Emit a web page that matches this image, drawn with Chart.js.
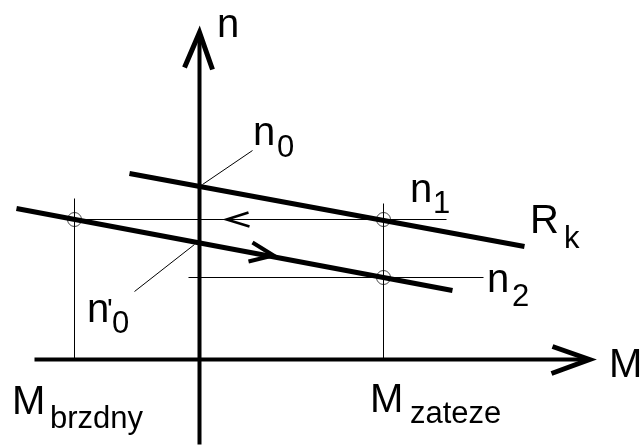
<!DOCTYPE html>
<html>
<head>
<meta charset="utf-8">
<script src="https://cdn.jsdelivr.net/npm/chart.js@4"></script>
<style>
  html, body { margin: 0; padding: 0; background: #fff; }
  canvas { display: block; }
</style>
</head>
<body>
<canvas id="charChart" width="640" height="445"></canvas>
<script>
  /* ---- Data (moment M, speed n), origin at the axes crossing ---- */
  // characteristic with series resistance Rk (n0 at M = 0)
  const lineRk = [[-70, 186], [325, 113]];
  // shifted characteristic (n0' at M = 0)
  const lineShift = [[-183, 151], [253, 69]];
  // working speeds n1 / n2
  const levelN1 = [[-132, 140], [247, 140]];
  const levelN2 = [[-11, 82], [284, 82]];
  // braking / load moments
  const dropBrzdny = [[-125, 0], [-125, 161]];
  const dropZateze = [[184, 0], [184, 156]];
  // operating points
  const operPoints = [[-125, 140], [184, 140], [184, 82]];
  // axes and their arrow heads
  const axisM = [[-165, 0], [390, 0]];
  const axisN = [[0, -85], [0, 327]];
  const headM = [[353, 13], [390, 0], [352, -14]];
  const headN = [[-15, 292], [0, 327], [13, 290]];
  // direction arrows on n1 level and on the shifted line
  const arrowBack = [[49, 147], [27, 140], [50, 133]];
  const arrowFwd = [[53, 117], [74, 104], [49, 98]];
  // leader lines for n0 and n0'
  const leaderN0 = [[53, 209], [3, 175]];
  const leaderN0s = [[-65, 68], [-5, 115]];

  // labels: main text, subscript, anchor (M, n) of main text baseline-left
  const labels = [
    { t: 'n', s: '', M: 17, n: 323 },
    { t: 'n', s: '0', M: 53, n: 215, dx: 24, dy: 12 },
    { t: 'n', s: '1', M: 210, n: 158, dx: 23, dy: 11 },
    { t: 'R', s: 'k', M: 330, n: 127, dx: 34, dy: 15 },
    { t: 'n', s: '2', M: 287, n: 68, dx: 25, dy: 14 },
    { t: 'n', s: '0', M: -113, n: 38, dx: 25, dy: 11, prime: true },
    { t: 'M', s: 'brzdny', M: -188, n: -54, dx: 38, dy: 14 },
    { t: 'M', s: 'zateze', M: 170, n: -52, dx: 40, dy: 11 },
    { t: 'M', s: '', M: 409, n: -17 }
  ];

  const pts = arr => arr.map(p => ({ x: p[0], y: p[1] }));

  function seg(data, width, extra) {
    return Object.assign({
      data: pts(data),
      showLine: true,
      borderColor: '#000',
      borderWidth: width,
      pointRadius: 0,
      fill: false,
      tension: 0,
      clip: false
    }, extra || {});
  }

  const FONT = '"Liberation Sans", Arial, sans-serif';

  // text labels placed through the chart scales
  const labelPlugin = {
    id: 'labels',
    afterDatasetsDraw(chart) {
      const { ctx, scales } = chart;
      ctx.save();
      ctx.fillStyle = '#000';
      ctx.textAlign = 'left';
      ctx.textBaseline = 'alphabetic';
      labels.forEach(l => {
        const x = Math.round(scales.x.getPixelForValue(l.M));
        const y = Math.round(scales.y.getPixelForValue(l.n));
        ctx.font = '40px ' + FONT;
        ctx.fillText(l.t, x, y);
        if (l.s) {
          ctx.font = '31px ' + FONT;
          ctx.fillText(l.s, x + l.dx, y + l.dy);
        }
        if (l.prime) {
          ctx.font = '30px ' + FONT;
          ctx.fillText("'", x + 20, y - 3);
        }
      });
      ctx.restore();
    }
  };

  const ctx = document.getElementById('charChart').getContext('2d');

  new Chart(ctx, {
    type: 'scatter',
    data: {
      datasets: [
        seg(axisM, 4),
        seg(axisN, 4),
        seg(headM, 5, { borderJoinStyle: 'miter' }),
        seg(headN, 5, { borderJoinStyle: 'miter' }),
        seg(levelN1, 1),
        seg(levelN2, 1),
        seg(dropBrzdny, 1),
        seg(dropZateze, 1),
        seg(leaderN0, 1),
        seg(leaderN0s, 1),
        seg(lineRk, 5),
        seg(lineShift, 5),
        seg(arrowBack, 2.5),
        seg(arrowFwd, 4),
        {
          data: pts(operPoints),
          showLine: false,
          pointRadius: 7,
          pointBorderWidth: 1,
          pointBorderColor: '#444',
          pointBackgroundColor: 'rgba(0,0,0,0)',
          clip: false
        }
      ]
    },
    options: {
      responsive: false,
      animation: false,
      layout: { padding: 0, autoPadding: false },
      plugins: {
        legend: { display: false },
        tooltip: { enabled: false }
      },
      scales: {
        // half-pixel offset keeps the 1px guide lines sharp
        x: { type: 'linear', min: -199.5, max: 440.5, display: false },
        y: { type: 'linear', min: -85.5, max: 359.5, display: false }
      }
    },
    plugins: [labelPlugin]
  });
</script>
</body>
</html>
